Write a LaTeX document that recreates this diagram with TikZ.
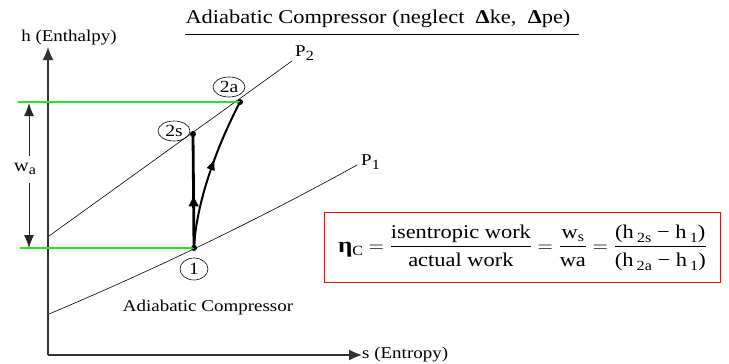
\documentclass[tikz,border=0pt]{standalone}
\usepackage{amsmath}
\usepackage{fontspec}
\setmainfont{Liberation Serif}[FakeStretch=1.15]
\usetikzlibrary{arrows.meta,decorations.markings,shapes.geometric}
\definecolor{lgreen}{RGB}{40,225,40}
\definecolor{boxred}{RGB}{215,20,20}
\newcommand{\lowsub}[2][4pt]{\raisebox{-#1}{\fontsize{14}{15}\selectfont #2}}
\begin{document}
\begin{tikzpicture}[x=1pt,y=-1pt,
  txt/.style={font=\fontsize{16.5}{18}\selectfont, inner sep=0pt},
  axisline/.style={line width=1.2pt, black!80, -{Latex[length=13pt,width=11pt]}},
  wline/.style={line width=1pt, black!85, -{Latex[length=13pt,width=10pt]}},
  pline/.style={line width=0.6pt},
  gline/.style={lgreen, line width=1.1pt},
  dotnode/.style={circle, fill, inner sep=0pt, minimum size=6pt},
  statelbl/.style={ellipse, draw, line width=0.6pt, inner sep=0pt, minimum width=32pt, minimum height=20pt, font=\fontsize{17}{18}\selectfont},
  midarrow/.style 2 args={postaction={decorate}, decoration={markings, mark=at position #1 with {\arrow{Latex[length=12pt,width=#2]}}}}
]
\useasboundingbox (0,0) rectangle (729,364);

% title
\node[txt, font=\fontsize{19.5}{21}\selectfont] (title) at (378,19) {Adiabatic Compressor (neglect \ \textbf{Δ}ke, \ \textbf{Δ}pe)};
\coordinate (ul1) at (185,34);
\coordinate (ul2) at (579,34);
\draw[line width=0.8pt] (ul1) -- (ul2);

% axes
\coordinate (O) at (48,355);
\coordinate (ytip) at (48,47);
\node[txt] (hlab) at (69,38) {h (Enthalpy)};
\node[txt, anchor=west] (slab) at (362,355) {s (Entropy)};
\draw[axisline] (O) -- (slab.west);
\draw[axisline] (O) -- (ytip);

% pressure lines
\coordinate (p2s) at (49,236);
\coordinate (p2e) at (292,61);
\draw[pline] (p2s) -- (p2e);
\node[txt, anchor=south west] (P2) at (295,61) {P\lowsub{2}};
\coordinate (p1s) at (49,314);
\coordinate (p1e) at (357,165);
\draw[pline] (p1s) .. controls (151,271) and (254,222) .. (p1e);
\node[txt, anchor=south west] (P1) at (361,170) {P\lowsub{1}};

% states
\node[dotnode] (n1) at (194,248) {};
\node[dotnode] (n2s) at (193,134) {};
\node[dotnode] (n2a) at (240,102) {};

% green lines
\coordinate (g1) at (18,102);
\coordinate (g2) at (20,248);
\draw[gline] (g1) -- (n2a.center);
\draw[gline] (g2) -- (n1.center);

% process paths
\draw[line width=2.8pt, midarrow={0.47}{11pt}] (n1.center) -- (n2s.center);
\draw[line width=2pt, midarrow={0.6}{9pt}] (n1.center) .. controls (196,205) and (215,150) .. (n2a.center);

% state labels
\node[statelbl] (l2a) at (229,87) {2a};
\node[statelbl] (l2s) at (174,131) {2s};
\node[statelbl, minimum width=28pt, minimum height=22pt] (l1) at (194,269) {1};

% w_a
\node[txt, font=\fontsize{18}{20}\selectfont] (wa) at (25,169) {w\lowsub[3pt]{a}};
\coordinate (wtop) at (29,103);
\coordinate (wbot) at (29,248);
\coordinate (wu) at (29,156);
\coordinate (wd) at (29,183);
\draw[wline] (wu) -- (wtop);
\draw[wline] (wd) -- (wbot);

% bottom label
\node[txt] (lab) at (208,308) {Adiabatic Compressor};

% efficiency box
\node[draw=boxred, line width=1.6pt, minimum width=396pt, minimum height=70pt, inner sep=0pt,
      font=\fontsize{19.5}{21}\selectfont] (eff) at (522.5,247.5)
 {$\text{\fontsize{22}{22}\selectfont\textbf{η}\lowsub[3pt]{C}} = \dfrac{\text{isentropic work}}{\text{actual work}}
   = \dfrac{\text{w\lowsub[3pt]{s}}}{\text{wa}}
   = \dfrac{\text{(h\,\lowsub{2s} − h\,\lowsub{1})}}{\text{(h\,\lowsub{2a} − h\,\lowsub{1})}}$};
\end{tikzpicture}
\end{document}
